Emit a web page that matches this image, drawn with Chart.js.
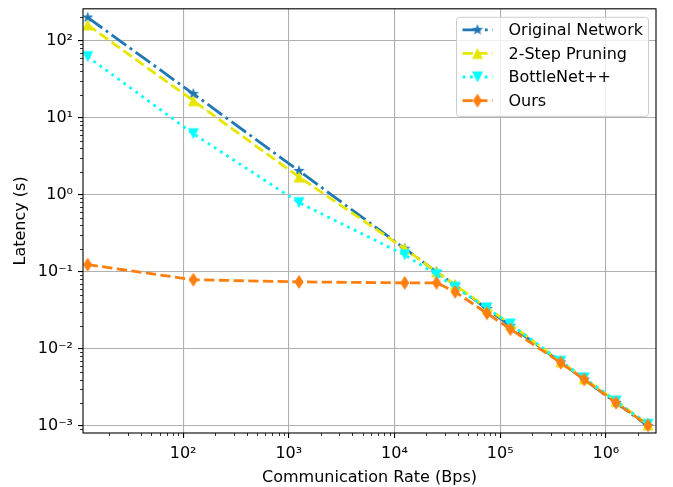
<!DOCTYPE html>
<html>
<head>
<meta charset="utf-8">
<script src="https://cdn.jsdelivr.net/npm/chart.js@4.4.1/dist/chart.umd.min.js"></script>
<style>
  html, body { margin: 0; padding: 0; background: #fff; }
  #contenedor { width: 673px; height: 487px; }
</style>
</head>
<body>
<div id="contenedor"><canvas id="grafico"></canvas></div>
<script>
// communication rates (Bps) and latencies (s)
const rates = [12.5, 125, 1250, 12500, 25000, 37500, 75000, 125000, 375000, 625000, 1250000, 2500000];
const originalNetwork = [200, 20.4, 2.04, 0.2, 0.1, 0.067, 0.033, 0.02, 0.0067, 0.004, 0.002, 0.001];
const twoStepPruning = [160, 16.6, 1.7, 0.2, 0.1, 0.068, 0.034, 0.021, 0.0068, 0.0041, 0.0021, 0.00104];
const bottleNet = [62, 6.2, 0.79, 0.166, 0.092, 0.063, 0.034, 0.021, 0.0069, 0.0042, 0.0021, 0.00105];
const ours = [0.124, 0.079, 0.074, 0.072, 0.072, 0.055, 0.029, 0.018, 0.0066, 0.004, 0.002, 0.00102];

const xMin = 11.3, xMax = 2.98e6;
const yMin = 8.1e-4, yMax = 259;

const fuente = '"DejaVu Sans", sans-serif';
const tamFuente = 16;
const sup = { '-': '⁻', '0': '⁰', '1': '¹', '2': '²', '3': '³', '4': '⁴', '5': '⁵', '6': '⁶', '7': '⁷', '8': '⁸', '9': '⁹' };

function isMajor(v) {
    const l = Math.log10(v);
    return Math.abs(l - Math.round(l)) < 1e-6;
}
function isMinor(v) {
    const m = v / Math.pow(10, Math.floor(Math.log10(v) + 1e-9));
    const r = Math.round(m);
    return Math.abs(m - r) < 1e-6 && r >= 2 && r <= 9;
}
function potencia(v) {
    const e = Math.round(Math.log10(v));
    return '10' + String(e).split('').map(c => sup[c]).join('');
}

// filled markers like matplotlib's, drawn once on small canvases
function marcador(tipo, color) {
    const c = document.createElement('canvas');
    c.width = 16; c.height = 18;
    const ctx = c.getContext('2d');
    ctx.translate(8, 9);
    ctx.fillStyle = color;
    ctx.beginPath();
    if (tipo === 'star') {
        for (let i = 0; i < 10; i++) {
            const r = i % 2 ? 2.4 : 6;
            const a = -Math.PI / 2 + i * Math.PI / 5;
            ctx.lineTo(r * Math.cos(a), r * Math.sin(a));
        }
    } else if (tipo === 'up') {
        ctx.moveTo(0, -5.5); ctx.lineTo(5.5, 5.5); ctx.lineTo(-5.5, 5.5);
    } else if (tipo === 'down') {
        ctx.moveTo(0, 5.5); ctx.lineTo(5.5, -5.5); ctx.lineTo(-5.5, -5.5);
    } else {
        ctx.moveTo(0, -7); ctx.lineTo(4.6, 0); ctx.lineTo(0, 7); ctx.lineTo(-4.6, 0);
    }
    ctx.closePath();
    ctx.fill();
    return c;
}

function serie(label, valores, color, dash, tipo, orden) {
    return {
        label: label,
        data: rates.map((r, i) => ({ x: r, y: valores[i] })),
        borderColor: color,
        backgroundColor: color,
        borderWidth: 2.8,
        borderDash: dash,
        borderCapStyle: 'butt',
        pointStyle: marcador(tipo, color),
        pointRadius: 6,
        pointHoverRadius: 6,
        tension: 0,
        order: orden
    };
}

const datasets = [
    serie('Original Network', originalNetwork, '#1f77b4', [18, 4.4, 2.8, 4.4], 'star', 3),
    serie('2-Step Pruning', twoStepPruning, '#e6e600', [10.3, 4.4], 'up', 2),
    serie('BottleNet++', bottleNet, '#00ffff', [2.8, 4.6], 'down', 1),
    serie('Ours', ours, '#ff7f0e', [10.3, 4.4], 'diamond', 0)
];

// frame, minor ticks and the legend box
const extras = {
    id: 'extras',
    afterDraw(chart) {
        const ctx = chart.ctx;
        const area = chart.chartArea;
        const sx = chart.scales.x, sy = chart.scales.y;
        ctx.save();
        ctx.strokeStyle = '#000';
        ctx.lineWidth = 0.8;
        sx.ticks.forEach(t => {
            if (!isMinor(t.value)) return;
            const px = Math.round(sx.getPixelForValue(t.value)) + 0.5;
            ctx.beginPath(); ctx.moveTo(px, area.bottom); ctx.lineTo(px, area.bottom + 3); ctx.stroke();
        });
        sy.ticks.forEach(t => {
            if (!isMinor(t.value)) return;
            const py = Math.round(sy.getPixelForValue(t.value)) + 0.5;
            ctx.beginPath(); ctx.moveTo(area.left, py); ctx.lineTo(area.left - 3, py); ctx.stroke();
        });
        ctx.lineWidth = 1.1;
        ctx.strokeRect(area.left, area.top, area.right - area.left, area.bottom - area.top);

        // legend
        const lx = area.right - 199.5, ly = area.top + 8.5;
        ctx.fillStyle = 'rgba(255,255,255,0.8)';
        ctx.strokeStyle = '#cccccc';
        ctx.lineWidth = 1;
        ctx.beginPath();
        ctx.roundRect(lx, ly, 192, 99, 3);
        ctx.fill();
        ctx.stroke();
        chart.data.datasets.forEach((ds, i) => {
            const cy = ly + 12.5 + i * 23.6;
            ctx.strokeStyle = ds.borderColor;
            ctx.lineWidth = ds.borderWidth;
            ctx.lineCap = 'butt';
            ctx.setLineDash(ds.borderDash);
            ctx.beginPath(); ctx.moveTo(lx + 6, cy); ctx.lineTo(lx + 36, cy); ctx.stroke();
            ctx.setLineDash([]);
            const img = ds.pointStyle;
            ctx.drawImage(img, lx + 21 - img.width / 2, cy - img.height / 2);
            ctx.fillStyle = '#000';
            ctx.font = tamFuente + 'px ' + fuente;
            ctx.textBaseline = 'middle';
            ctx.fillText(ds.label, lx + 52, cy + 1);
        });
        ctx.restore();
    }
};

const ejeComun = {
    type: 'logarithmic',
    border: { display: false },
    grid: {
        color: c => (c.tick && isMajor(c.tick.value)) ? '#b0b0b0' : 'rgba(0,0,0,0)',
        tickColor: c => (c.tick && isMajor(c.tick.value)) ? '#000' : 'rgba(0,0,0,0)',
        lineWidth: 1.1,
        tickLength: 5
    },
    ticks: {
        autoSkip: false,
        maxRotation: 0,
        color: '#000',
        font: { family: fuente, size: tamFuente },
        callback: v => isMajor(v) ? potencia(v) : ''
    }
};

new Chart(document.querySelector('#grafico'), {
    type: 'line',
    data: { datasets: datasets },
    plugins: [extras],
    options: {
        responsive: true,
        maintainAspectRatio: false,
        animation: false,
        events: [],
        layout: { padding: { left: 0, top: 7, right: 17, bottom: 0 } },
        plugins: { legend: { display: false }, tooltip: { enabled: false } },
        scales: {
            x: Object.assign({}, ejeComun, {
                min: xMin, max: xMax,
                ticks: Object.assign({}, ejeComun.ticks, { padding: 6 }),
                title: { display: true, text: 'Communication Rate (Bps)', color: '#000', font: { family: fuente, size: tamFuente }, padding: { top: 0, bottom: 0 } },
                afterFit: s => { s.height = 54; s.paddingLeft = 0; s.paddingRight = 0; }
            }),
            y: Object.assign({}, ejeComun, {
                min: yMin, max: yMax,
                ticks: Object.assign({}, ejeComun.ticks, { padding: 5 }),
                title: { display: true, text: 'Latency (s)', color: '#000', font: { family: fuente, size: tamFuente }, padding: { top: 11, bottom: 0 } },
                afterFit: s => { s.width = 83; s.paddingTop = 0; s.paddingBottom = 0; }
            })
        }
    }
});
</script>
</body>
</html>
